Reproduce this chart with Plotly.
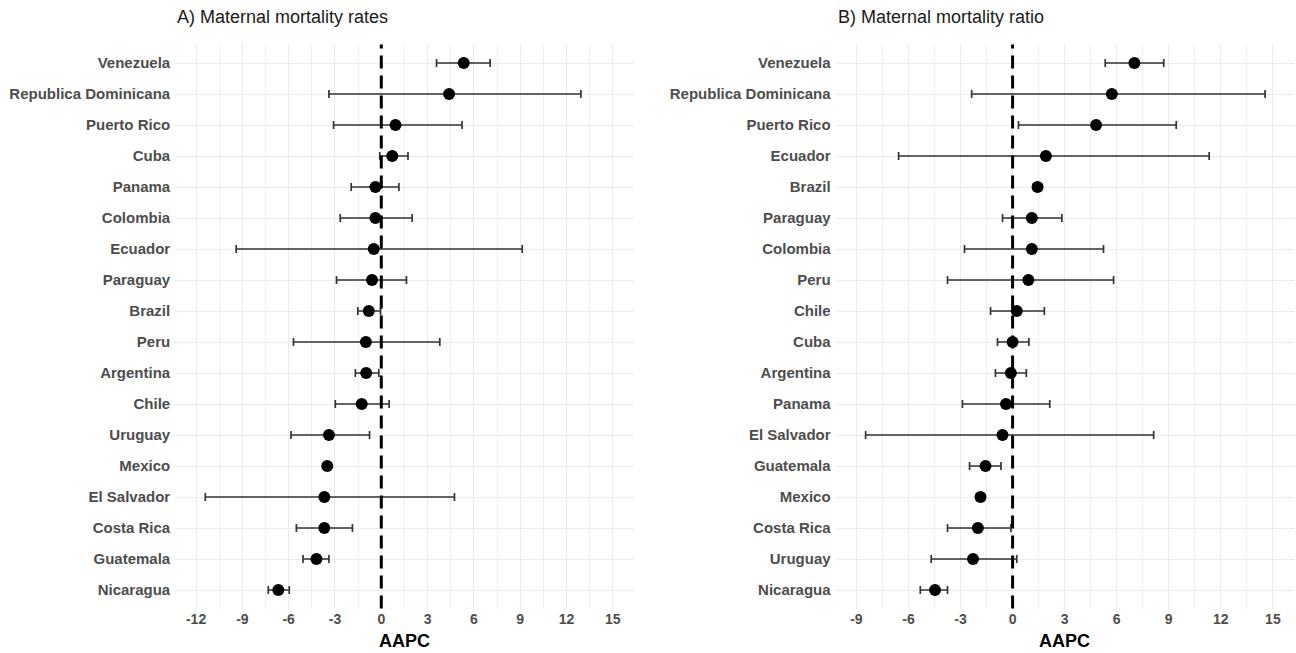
import plotly.graph_objects as go

# ---------------- Data ----------------
# Panel A: Maternal mortality rates (top to bottom)
countries_a = ["Venezuela", "Republica Dominicana", "Puerto Rico", "Cuba", "Panama",
               "Colombia", "Ecuador", "Paraguay", "Brazil", "Peru", "Argentina", "Chile",
               "Uruguay", "Mexico", "El Salvador", "Costa Rica", "Guatemala", "Nicaragua"]
aapc_a = [5.34, 4.39, 0.92, 0.71, -0.38, -0.38, -0.49, -0.60, -0.81, -1.00, -0.98, -1.27,
          -3.39, -3.50, -3.69, -3.69, -4.20, -6.67]
lower_a = [3.58, -3.39, -3.09, -0.10, -1.95, -2.66, -9.40, -2.90, -1.52, -5.69, -1.68, -2.98,
           -5.85, -3.75, -11.40, -5.50, -5.07, -7.32]
upper_a = [7.05, 12.93, 5.23, 1.73, 1.14, 2.00, 9.13, 1.63, -0.05, 3.79, -0.16, 0.51,
           -0.76, -3.25, 4.74, -1.87, -3.39, -5.96]

# Panel B: Maternal mortality ratio (top to bottom)
countries_b = ["Venezuela", "Republica Dominicana", "Puerto Rico", "Ecuador", "Brazil",
               "Paraguay", "Colombia", "Peru", "Chile", "Cuba", "Argentina", "Panama",
               "El Salvador", "Guatemala", "Mexico", "Costa Rica", "Uruguay", "Nicaragua"]
aapc_b = [7.02, 5.72, 4.81, 1.92, 1.44, 1.11, 1.11, 0.91, 0.24, 0.00, -0.10, -0.38,
          -0.58, -1.56, -1.85, -2.00, -2.28, -4.47]
lower_b = [5.34, -2.36, 0.34, -6.57, 1.20, -0.58, -2.77, -3.75, -1.27, -0.87, -0.99, -2.89,
           -8.47, -2.48, -2.08, -3.75, -4.69, -5.32]
upper_b = [8.71, 14.55, 9.43, 11.33, 1.68, 2.84, 5.24, 5.82, 1.83, 0.94, 0.79, 2.14,
           8.13, -0.67, -1.62, -0.10, 0.24, -3.75]

titles = ["A) Maternal mortality rates", "B) Maternal mortality ratio"]
x_ticks_a = [-12, -9, -6, -3, 0, 3, 6, 9, 12, 15]
x_ticks_b = [-9, -6, -3, 0, 3, 6, 9, 12, 15]
x_title = "AAPC"

# ---------------- Figure ----------------
W, H = 1296, 653
fig = go.Figure()

panels = [
    ("x", "y", countries_a, aapc_a, lower_a, upper_a),
    ("x2", "y2", countries_b, aapc_b, lower_b, upper_b),
]
for xa, ya, cats, vals, lo, hi in panels:
    fig.add_trace(go.Scatter(
        x=vals, y=cats, xaxis=xa, yaxis=ya, mode="markers",
        marker=dict(color="black", size=12, line=dict(width=0)),
        error_x=dict(type="data", symmetric=False,
                     array=[h - v for h, v in zip(hi, vals)],
                     arrayminus=[v - l for v, l in zip(vals, lo)],
                     color="#333333", thickness=1.7, width=4),
        showlegend=False, hoverinfo="x+y",
    ))

FONT = "Liberation Sans, Arial, sans-serif"
tick_font = dict(family=FONT, size=14, color="#4D4D4D", weight="bold")
lab_font = dict(family=FONT, size=15, color="#4D4D4D", weight="bold")
grid_col = "#EBEBEB"

dom_y = [1 - 608.6 / H, 1 - 44.4 / H]
dom_x1 = [175.2 / W, 633.7 / W]
dom_x2 = [835.6 / W, 1293.7 / W]

def xaxis_cfg(dom, rng, ticks, anchor):
    return dict(domain=dom, range=rng, tickvals=ticks, ticktext=[str(t) for t in ticks],
                showgrid=True, gridcolor=grid_col, gridwidth=1.3,
                minor=dict(dtick=1.5, tick0=0, showgrid=True, gridcolor="#F0F0F0", gridwidth=1),
                zeroline=False, showline=False, ticks="", tickfont=tick_font,
                anchor=anchor, fixedrange=True)

def yaxis_cfg(cats, anchor):
    return dict(domain=dom_y, type="category", categoryorder="array",
                categoryarray=cats[::-1], range=[-0.6, len(cats) - 0.4],
                showgrid=True, gridcolor=grid_col, gridwidth=1.3,
                zeroline=False, showline=False, ticks="", tickfont=lab_font,
                anchor=anchor, ticklabelstandoff=4, fixedrange=True)

fig.update_layout(
    width=W, height=H,
    margin=dict(l=0, r=0, t=0, b=0),
    paper_bgcolor="white", plot_bgcolor="white",
    xaxis=xaxis_cfg(dom_x1, [-13.35, 16.35], x_ticks_a, "y"),
    xaxis2=xaxis_cfg(dom_x2, [-10.2, 16.2], x_ticks_b, "y2"),
    yaxis=yaxis_cfg(countries_a, "x"),
    yaxis2=yaxis_cfg(countries_b, "x2"),
)

# dashed reference line at 0 in each panel
for xr, yr in [("x", "y domain"), ("x2", "y2 domain")]:
    fig.add_shape(type="line", xref=xr, yref=yr, x0=0, x1=0, y0=0, y1=1,
                  line=dict(color="black", width=3, dash="13px,7px"), layer="above")

# panel titles and x-axis titles
for xd, t in zip(["x domain", "x2 domain"], titles):
    fig.add_annotation(text=t, xref=xd, yref="paper", x=0, y=1 - 17 / H,
                       xanchor="left", yanchor="middle", showarrow=False,
                       font=dict(family=FONT, size=18, color="#1A1A1A"))
    fig.add_annotation(text=x_title, xref=xd, yref="paper", x=0.5, y=1 - 641 / H,
                       xanchor="center", yanchor="middle", showarrow=False,
                       font=dict(family=FONT, size=18, color="black", weight="bold"))

fig.write_html("out.html", config={"displayModeBar": False},
               post_script="document.body.style.margin='0';document.body.style.padding='0';")
